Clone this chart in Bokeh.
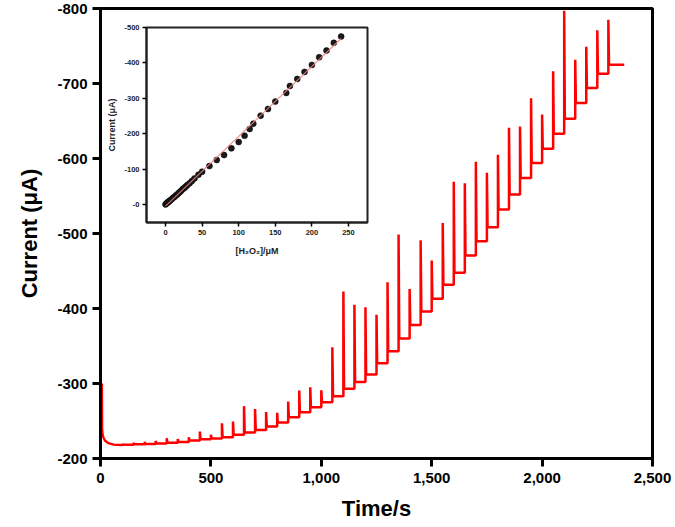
import numpy as np
from bokeh.plotting import figure
from bokeh.models import Range1d, FixedTicker, NumeralTickFormatter
from bokeh.embed import file_html
from bokeh.resources import INLINE

# ---------------- data: main amperometric trace ----------------
decay_time = [6, 7, 9, 13, 20, 35, 60, 100]
decay_current = [-300, -240, -233, -228, -224, -220.5, -218.5, -218]

inj_time = [100, 150, 200, 250, 300, 350, 400, 450, 500, 550, 600, 650, 700, 750,
            800, 850, 900, 950, 1000, 1050, 1100, 1150, 1200, 1250, 1300, 1350,
            1400, 1450, 1500, 1550, 1600, 1650, 1700, 1750, 1800, 1850, 1900,
            1950, 2000, 2050, 2100, 2150, 2200, 2250, 2300]
peak_current = [-219.5, -221, -222, -223.5, -227, -226, -228.4, -236, -231.6, -247,
                -249.3, -269.8, -266, -262, -261, -276, -290.7, -295, -291, -348.4,
                -422.7, -405, -401.8, -391.6, -435, -498.7, -426, -491, -464, -514,
                -569, -567, -595.6, -581, -605, -641, -642.7, -680.4, -658.7, -716.4,
                -797, -731.6, -749, -771, -785]
step_current = [-218.5, -219, -219.5, -220, -221, -222, -224, -225.8, -226.7, -228.4,
                -231.6, -234.7, -238, -242.7, -248, -255, -261.7, -268.4, -275, -283,
                -293, -302, -312, -327, -343, -360, -378, -396, -413, -431.6, -447.6,
                -470.7, -489.8, -508.4, -532, -552, -574, -594, -613, -633, -653, -674,
                -694, -713, -725]
end_time = 2372

# ---------------- data: inset calibration ----------------
conc = [0, 1, 2, 3, 4, 5, 6, 8, 10, 12, 14, 16, 18, 20, 22, 24, 26, 28, 30, 33, 36,
        39.6, 45, 50, 60, 70, 80, 90, 100, 108, 115, 120, 130, 140, 150, 165, 170,
        180, 190, 200, 210, 220, 230, 240]
calib_current = [-1, -3, -5, -7, -8, -10, -12, -15, -19, -22, -26, -29, -33, -37, -41,
                 -45, -48, -52, -56, -61, -67, -74.4, -84.7, -93.2, -109.2, -126.2,
                 -140.3, -159.1, -177, -194.9, -213.7, -228.8, -251.4, -270.2, -291,
                 -315.4, -335.2, -355, -374.8, -394.5, -416.2, -435, -456.7, -474.6]

main_x_ticks = [0, 500, 1000, 1500, 2000, 2500]
main_y_ticks = [-200, -300, -400, -500, -600, -700, -800]
main_y_labels = ["-200", "-300", "-400", "-500", "-600", "-700", "-800"]
inset_x_ticks = [0, 50, 100, 150, 200, 250]
inset_y_ticks = [0, -100, -200, -300, -400, -500]
inset_y_labels = ["-0", "-100", "-200", "-300", "-400", "-500"]

# build staircase trace from the arrays
tx = list(decay_time)
ty = list(decay_current)
prev = decay_current[-1]
for i, t in enumerate(inj_time):
    tx += [t, t, t + 3]
    ty += [prev, peak_current[i], step_current[i]]
    nxt = inj_time[i + 1] if i + 1 < len(inj_time) else end_time
    tx.append(nxt)
    ty.append(step_current[i])
    prev = step_current[i]

FONT = "Liberation Sans"

# ---------------- main figure ----------------
p = figure(width=675, height=527, output_backend="svg", toolbar_location=None,
           x_range=Range1d(0, 2500), y_range=Range1d(-200, -800),
           min_border_left=100, min_border_right=23, min_border_top=8,
           min_border_bottom=69)
p.styles = {"position": "absolute", "left": "0px", "top": "0px"}
p.grid.visible = False
p.outline_line_color = "black"
p.outline_line_width = 3
p.background_fill_color = "white"

p.line(tx, ty, line_color="#ff0000", line_width=2.5)

for ax in (p.xaxis[0], p.yaxis[0]):
    ax.axis_line_width = 3
    ax.axis_line_color = "black"
    ax.major_tick_line_width = 3
    ax.major_tick_out = 8
    ax.major_tick_in = 0
    ax.minor_tick_out = 0
    ax.minor_tick_in = 0
    ax.major_label_text_font = FONT
    ax.major_label_text_font_style = "bold"
    ax.major_label_text_font_size = "15px"
    ax.major_label_text_color = "black"
    ax.axis_label_text_font = FONT
    ax.axis_label_text_font_style = "bold"
    ax.axis_label_text_font_size = "22px"
    ax.axis_label_text_color = "black"

p.xaxis.ticker = FixedTicker(ticks=main_x_ticks)
p.xaxis.formatter = NumeralTickFormatter(format="0,0")
p.xaxis.axis_label = "Time/s"
p.xaxis.major_label_standoff = 6
p.xaxis.axis_label_standoff = 10
p.yaxis.ticker = FixedTicker(ticks=main_y_ticks)
p.yaxis.major_label_overrides = dict(zip(main_y_ticks, main_y_labels))
p.yaxis.axis_label = "Current (μA)"
p.yaxis.major_label_standoff = 5
p.yaxis.axis_label_standoff = 12

# ---------------- inset figure ----------------
ins = figure(width=273, height=244, output_backend="svg", toolbar_location=None,
             x_range=Range1d(-26, 276), y_range=Range1d(50, -500),
             min_border_left=40, min_border_right=10, min_border_top=7,
             min_border_bottom=42)
ins.styles = {"position": "absolute", "left": "104px", "top": "20px", "z-index": "2"}
ins.border_fill_alpha = 0
ins.background_fill_color = "white"
ins.grid.visible = False
ins.outline_line_color = "#222222"
ins.outline_line_width = 2

slope, intercept = np.polyfit(conc, calib_current, 1)
fx = np.array([min(conc), max(conc)])
ins.scatter(conc, calib_current, size=6, fill_color="#1a1a1a", line_color="black",
            line_width=0.5)
ins.line(fx, slope * fx + intercept, line_color="#f08080", line_width=1.2, line_alpha=0.85)

for ax in (ins.xaxis[0], ins.yaxis[0]):
    ax.axis_line_width = 2
    ax.axis_line_color = "#222222"
    ax.major_tick_line_width = 1.5
    ax.major_tick_out = 4
    ax.major_tick_in = 0
    ax.minor_tick_out = 0
    ax.minor_tick_in = 0
    ax.major_label_text_font = FONT
    ax.major_label_text_font_style = "bold"
    ax.major_label_text_font_size = "7.5px"
    ax.major_label_text_color = "#222222"
    ax.axis_label_text_font = FONT
    ax.axis_label_text_font_style = "bold"
    ax.axis_label_text_font_size = "9px"
    ax.axis_label_text_color = "#222222"

ins.xaxis.ticker = FixedTicker(ticks=inset_x_ticks)
ins.xaxis.axis_label = "[H₂O₂]/μM"
ins.xaxis.major_label_standoff = 3
ins.xaxis.axis_label_standoff = 8
ins.yaxis.ticker = FixedTicker(ticks=inset_y_ticks)
ins.yaxis.major_label_overrides = dict(zip(inset_y_ticks, inset_y_labels))
ins.yaxis.axis_label = "Current (μA)"
ins.yaxis.major_label_standoff = 3
ins.yaxis.axis_label_standoff = 4

open("out.html", "w").write(file_html([p, ins], INLINE))
